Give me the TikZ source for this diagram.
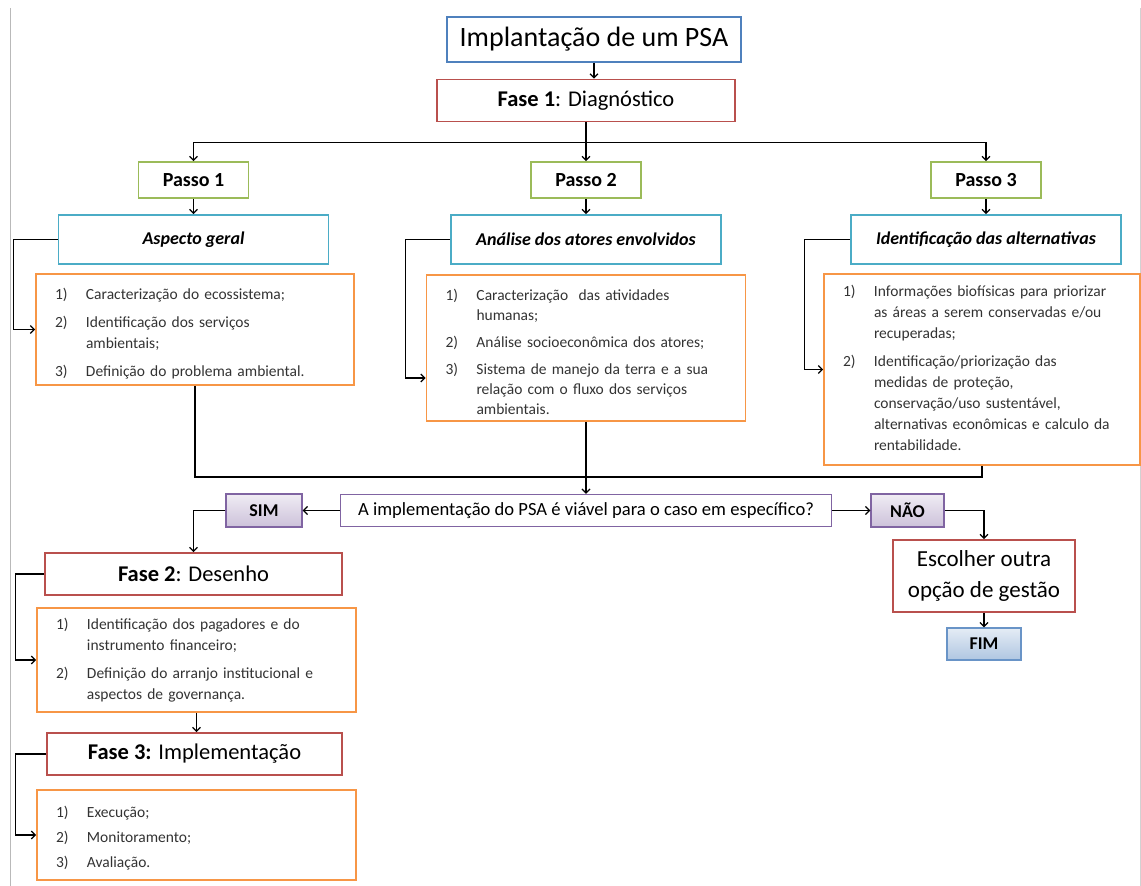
\documentclass[tikz,border=0pt]{standalone}
\usepackage{fontspec}
\setmainfont{Carlito}
\usetikzlibrary{arrows.meta}
\definecolor{titleblue}{HTML}{4F81BD}
\definecolor{faseRed}{HTML}{B9504D}
\definecolor{passoGreen}{HTML}{9BBB59}
\definecolor{aspCyan}{HTML}{4BACC6}
\definecolor{listOrange}{HTML}{F79646}
\definecolor{optPurple}{HTML}{8064A2}
\newenvironment{psalist}{\begin{tabular}{@{}p{31pt}@{}l@{}}}{\end{tabular}}

\begin{document}
\begin{tikzpicture}[x=1pt, y=-1pt, >={Straight Barb[length=4pt,width=8pt]}, line width=1.3pt,
   every node/.style={inner sep=0pt, text=black},
   title box/.style={draw=titleblue, line width=1.8pt, minimum width=294pt, minimum height=45pt,
                     font=\fontsize{28}{32}\selectfont},
   fase box/.style={draw=faseRed, line width=1.6pt, minimum height=42pt, font=\fontsize{22.5}{26}\selectfont},
   passo box/.style={draw=passoGreen, line width=1.6pt, minimum width=110pt, minimum height=36pt,
                     font=\fontsize{20}{23}\selectfont\bfseries},
   aspect box/.style={draw=aspCyan, line width=1.6pt, minimum width=270pt, minimum height=49pt,
                      font=\fontsize{18}{21}\selectfont\bfseries\itshape},
   list box/.style={draw=listOrange, line width=1.6pt, inner xsep=19pt, align=left,
                    font=\fontsize{15.5}{21}\selectfont, text=black!80},
   option box/.style={draw=optPurple, line width=1.2pt, top color=optPurple!12, bottom color=optPurple!40,
                      minimum height=33pt, font=\fontsize{18}{21}\selectfont\bfseries},
   end box/.style={draw=titleblue!85, line width=1.2pt, top color=titleblue!15, bottom color=titleblue!45,
                   minimum width=74pt, minimum height=32pt, font=\fontsize{18}{21}\selectfont\bfseries}]

\useasboundingbox (0,0) rectangle (1141,886);
\draw[gray!55, line width=1pt] (10,8) -- (10,886);
\draw[gray!35, line width=1pt] (1140,8) -- (1140,886);

\node[title box] (title) at (594,39.5) {Implantação de um PSA};
\node[fase box, minimum width=298pt] (fase1) at (586,100.5) {\textbf{Fase 1}: Diagnóstico};

\node[passo box] (passo1) at (193.5,180) {Passo 1};
\node[passo box] (passo2) at (586,180) {Passo 2};
\node[passo box] (passo3) at (986,180) {Passo 3};

\node[aspect box] (aspect1) at (193.5,239.5) {Aspecto geral};
\node[aspect box] (aspect2) at (586,239.5) {Análise dos atores envolvidos};
\node[aspect box] (aspect3) at (986,239.5) {Identificação das alternativas};

\node[list box, text width=280pt, minimum height=111pt] (list1) at (195,329.5) {\raisebox{-4pt}[\height][\depth]{\begin{psalist}
  1) & Caracterização do ecossistema;\\[7pt]
  2) & Identificação dos serviços\\ & ambientais;\\[7pt]
  3) & Definição do problema ambiental.
\end{psalist}}};
\node[list box, text width=281pt, minimum height=146pt, font=\fontsize{15.5}{20}\selectfont] (list2) at (586,348) {\raisebox{-5pt}[\height][\depth]{\begin{psalist}
  1) & Caracterização\ \ das atividades\\ & humanas;\\[7pt]
  2) & Análise socioeconômica dos atores;\\[7pt]
  3) & Sistema de manejo da terra e a sua\\ & relação com o fluxo dos serviços\\ & ambientais.
\end{psalist}}};
\node[list box, text width=278pt, minimum height=191pt] (list3) at (982,369.5) {\begin{psalist}
  1) & Informações biofísicas para priorizar\\ & as áreas a serem conservadas e/ou\\ & recuperadas;\\[7pt]
  2) & Identificação/priorização das\\ & medidas de proteção,\\ & conservação/uso sustentável,\\
     & alternativas econômicas e calculo da\\ & rentabilidade.
\end{psalist}};

\node[draw=optPurple, line width=1.2pt, minimum width=491pt, minimum height=32pt,
      font=\fontsize{18.6}{22}\selectfont] (decision) at (586,510.5) {A implementação do PSA é viável para o caso em específico?};
\node[option box, minimum width=76pt] (sim) at (264,510.5) {SIM};
\node[option box, minimum width=73pt] (nao) at (907.5,510.5) {NÃO};

\node[fase box, minimum width=182pt, minimum height=72pt, align=center,
      font=\fontsize{23}{31}\selectfont] (other) at (984,576) {Escolher outra\\opção de gestão};
\node[end box] (fim) at (984,644) {FIM};

\node[fase box, minimum width=297pt] (fase2) at (193.5,574) {\textbf{Fase 2}: Desenho};
\node[list box, text width=281pt, minimum height=104pt] (list4) at (196.5,660) {\begin{psalist}
  1) & Identificação dos pagadores e do\\ & instrumento financeiro;\\[7pt]
  2) & Definição do arranjo institucional e\\ & aspectos de governança.
\end{psalist}};
\node[fase box, minimum width=295pt] (fase3) at (194.5,754) {\textbf{Fase 3:} Implementação};
\node[list box, text width=281pt, minimum height=90pt] (list5) at (196.5,835) {\begin{psalist}
  \noalign{\vskip 6pt}
  1) & Execução;\\[4pt]
  2) & Monitoramento;\\[4pt]
  3) & Avaliação.
\end{psalist}};

\draw[->] (title.south) -- (title.south |- fase1.north);
\draw (fase1.south) -- ++(0,20) coordinate (bus);
\draw[->] (bus) -| (passo1.north);
\draw[->] (bus) -| (passo3.north);
\draw[->] (bus) -- (passo2.north);
\foreach \i in {1,2,3}
   \draw[->] (passo\i.south) -- (aspect\i.north);
\draw[->] (aspect1.west) -- ++(-44,0) |- (list1.west);
\draw[->] (aspect2.west) -- ++(-45,0) |- ([yshift=-30pt]list2.west);
\draw[->] (aspect3.west) -- ++(-46,0) |- (list3.west);
\coordinate (merge) at (586,477);
\draw (list1.south) |- (merge) -| (list3.south);
\draw[->] (list2.south) -- (decision.north);
\draw[->] (decision.west) -- (sim.east);
\draw[->] (decision.east) -- (nao.west);
\draw[->] (sim.west) -| (fase2.north);
\draw[->] (nao.east) -| (other.north);
\draw[->] (other.south) -- (fim.north);
\draw[->] (fase2.west) -- ++(-29,0) |- (list4.west);
\draw[->] (list4.south) -- (list4.south |- fase3.north);
\draw[->] (fase3.west) -- ++(-31,0) |- (list5.west);

\end{tikzpicture}
\end{document}
